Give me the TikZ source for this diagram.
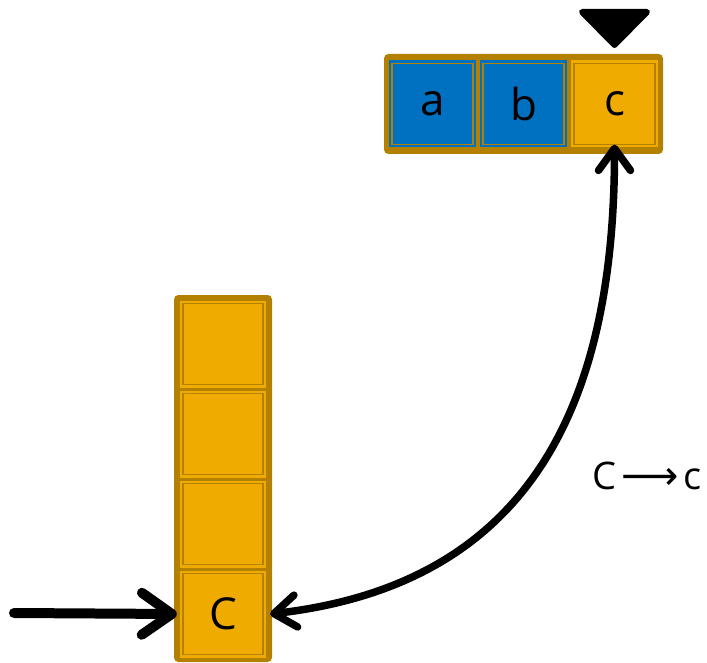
\documentclass[tikz,border=0pt]{standalone}
\usepackage{fontspec}
\setmainfont{Open Sans}
\newfontfamily\dejavu{DejaVu Sans}
\usetikzlibrary{arrows.meta}
\definecolor{goldd}{HTML}{B38000}
\definecolor{yell}{HTML}{F0AB00}
\definecolor{blu}{HTML}{0070C0}
\tikzset{
  outerbox/.style={draw=goldd, fill=goldd, line width=1pt, rounded corners=4pt, inner sep=0pt},
  cellbox/.style={fill=#1, inner sep=0pt, minimum width=87pt, minimum height=87pt,
    font=\fontsize{44}{50}\selectfont,
    path picture={\draw[goldd, line width=1.8pt]
      ([shift={(3pt,-3pt)}]path picture bounding box.north west) rectangle
      ([shift={(-3pt,3pt)}]path picture bounding box.south east);}},
  bigarrow/.style={line width=10pt, line cap=round, -{Straight Barb[round, length=30pt, width=42pt]}},
  curvearrow/.style={line width=7.5pt, line cap=round, {Straight Barb[round, length=22pt, width=32pt]}-{Straight Barb[round, length=22pt, width=32pt]}},
}
\begin{document}
\begin{tikzpicture}[x=1pt, y=-1pt]
\useasboundingbox (0,0) rectangle (707,663);
% top row
\node[outerbox, minimum width=278pt, minimum height=99pt] (top) at (523.5,104) {};
\node[cellbox=blu] (a) at (432.5,104) {a};
\node[cellbox=blu] (b) at (523.5,104) {b};
\node[cellbox=yell] (c) at (614.5,104) {c};
% pointer triangle
\filldraw[black, line width=6pt, line join=round] (582,12) -- (647,12) -- (614.5,45) -- cycle;
% column
\node[outerbox, minimum width=97pt, minimum height=366pt] (col) at (223,478.5) {};
\node[cellbox=yell, minimum width=86pt] (s1) at (223,344) {};
\node[cellbox=yell, minimum width=86pt] (s2) at (223,434) {};
\node[cellbox=yell, minimum width=86pt] (s3) at (223,524) {};
\node[cellbox=yell, minimum width=86pt] (C) at (223,614) {C};
% arrows
\coordinate (start) at (14,613);
\draw[bigarrow] (start) -- ([xshift=-3pt]C.west);
\draw[curvearrow] ([xshift=4pt]C.east) .. controls +(260,-30) and +(0,260) .. ([yshift=3pt]c.south);
% label
\node[font=\fontsize{38}{44}\selectfont, inner sep=0pt] (lab) at (647,476) {C\hspace{5pt}{\dejavu\fontsize{40}{44}\selectfont ⟶}\hspace{5pt}c};
\end{tikzpicture}
\end{document}
